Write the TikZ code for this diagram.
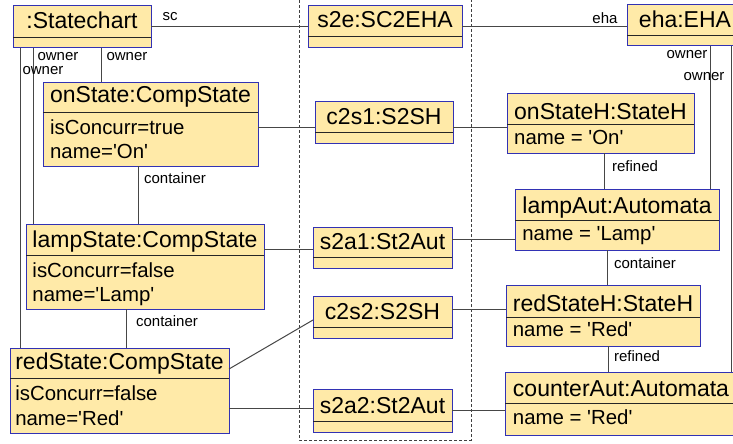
\documentclass[tikz,border=0pt]{standalone}
\usepackage{fontspec}
\setmainfont{Liberation Sans}[Ligatures=TeXOff]
\definecolor{objfill}{RGB}{255,234,168}
\definecolor{objedge}{RGB}{50,50,180}
\definecolor{linkgray}{RGB}{70,70,70}

% object box: name, x1, y1, x2, y of divider, y2, title baseline, title
\newcommand\objbox[8]{%
  \node[objframe, anchor=north west,
        minimum width={(#4-#2)*1pt}, minimum height={(#6-#3)*1pt}] (#1) at (#2,#3) {};
  \draw[divider] (#2,#5) -- (#4,#5);
  \node[objtitle] (#1-t) at ({(#2+#4)/2},#7) {#8};
}
% attribute line under the title of an object box: name, baseline, text
\newcommand\objattr[3]{%
  \node[attrtext] at (#1-t.west |- 0,#2) {#3};
}

\begin{document}
\begin{tikzpicture}[x=1pt,y=-1pt,
  objframe/.style={draw=objedge, fill=objfill, line width=1pt, inner sep=0pt, outer sep=0pt, rectangle},
  divider/.style={draw=black!85, line width=1pt},
  objtitle/.style={inner sep=0pt, anchor=base, font=\fontsize{23}{27}\selectfont},
  attrtext/.style={inner sep=0pt, anchor=base west, font=\fontsize{20.4}{24}\selectfont},
  link/.style={draw=linkgray, line width=1pt},
  role/.style={inner sep=0pt, font=\fontsize{15}{18}\selectfont},
  boundary/.style={draw=black!75, line width=0.9pt, dash pattern=on 3pt off 2pt}
]
\useasboundingbox (0,0) rectangle (733,444);
\clip (0,0) rectangle (733,444);

% correspondence layer
\draw[boundary] (299,-5) -- (299,440) -- (471,440) -- (471,-5);

% source side
\objbox{sc}{13}{6}{151}{38}{48}{29}{:Statechart}
\objbox{onState}{43}{82}{258}{112}{166}{102}{onState:CompState}
\objattr{onState}{134}{isConcurr=true}
\objattr{onState}{158}{name='On'}
\objbox{lampState}{26}{224}{264}{255}{309}{247}{lampState:CompState}
\objattr{lampState}{277}{isConcurr=false}
\objattr{lampState}{301.5}{name='Lamp'}
\objbox{redState}{10}{348}{229}{378}{433}{369}{redState:CompState}
\objattr{redState}{400}{isConcurr=false}
\objattr{redState}{425}{name='Red'}

% correspondence objects
\objbox{s2e}{308}{6}{462}{37}{48}{27.5}{s2e:SC2EHA}
\objbox{c2s1}{315}{101}{453}{132}{143}{124}{c2s1:S2SH}
\objbox{s2a1}{313}{227}{452}{257}{268}{249}{s2a1:St2Aut}
\objbox{c2s2}{313}{296}{452}{327}{338}{319}{c2s2:S2SH}
\objbox{s2a2}{313}{389}{452}{421}{432}{413}{s2a2:St2Aut}

% target side
\objbox{eha}{627}{5}{743}{36}{46}{28}{eha:EHA}
\objbox{onStateH}{507}{93}{694}{124}{153}{119}{onStateH:StateH}
\objattr{onStateH}{144}{name = 'On'}
\objbox{lampAut}{515}{189}{719}{220}{250}{213}{lampAut:Automata}
\objattr{lampAut}{240.5}{name = 'Lamp'}
\objbox{redStateH}{506}{285}{700}{317}{346}{311}{redStateH:StateH}
\objattr{redStateH}{336.5}{name = 'Red'}
\objbox{counterAut}{505}{372}{737}{403}{435}{396}{counterAut:Automata}
\objattr{counterAut}{424}{name = 'Red'}

% horizontal links through the correspondence layer
\draw[link] (sc.east |- 0,27) -- (s2e.west |- 0,27);
\draw[link] (s2e.east |- 0,27) -- (eha.west |- 0,27);
\draw[link] (onState.east |- 0,127) -- (c2s1.west |- 0,127);
\draw[link] (c2s1.east |- 0,127) -- (onStateH.west |- 0,127);
\draw[link] (lampState.east |- 0,249) -- (s2a1.west |- 0,249);
\draw[link] (s2a1.east |- 0,239) -- (lampAut.west |- 0,239);
\draw[link] (redState.east |- 0,369) -- (c2s2.west |- 0,320);
\draw[link] (c2s2.east |- 0,309) -- (redStateH.west |- 0,309);
\draw[link] (redState.east |- 0,408) -- (s2a2.west |- 0,408);
\draw[link] (s2a2.east |- 0,410) -- (counterAut.west |- 0,410);

% ownership and containment links
\draw[link] (sc.south -| 20,0) -- (redState.north -| 20,0);
\draw[link] (sc.south -| 33,0) -- (lampState.north -| 33,0);
\draw[link] (sc.south -| 101,0) -- (onState.north -| 101,0);
\draw[link] (onState.south -| 138,0) -- (lampState.north -| 138,0);
\draw[link] (lampState.south -| 126,0) -- (redState.north -| 126,0);
\draw[link] (eha.south -| 710,0) -- (lampAut.north -| 710,0);
\draw[link] (eha.south -| 731,0) -- (counterAut.north -| 731,0);
\draw[link] (onStateH.south -| 604,0) -- (lampAut.north -| 604,0);
\draw[link] (lampAut.south -| 607,0) -- (redStateH.north -| 607,0);
\draw[link] (redStateH.south -| 608,0) -- (counterAut.north -| 608,0);

% role names
\node[role] at (170,17) {sc};
\node[role] at (605,18) {eha};
\node[role] at (58,57) {owner};
\node[role] at (43,71) {owner};
\node[role] at (127,57) {owner};
\node[role] at (687,55) {owner};
\node[role] at (704,77) {owner};
\node[role] at (175,178) {container};
\node[role] at (167,321) {container};
\node[role] at (635,166) {refined};
\node[role] at (645,263) {container};
\node[role] at (637,356) {refined};
\end{tikzpicture}
\end{document}
